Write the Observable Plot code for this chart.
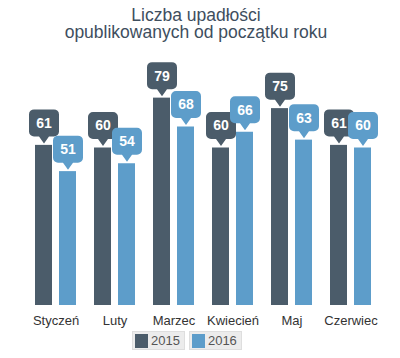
<!DOCTYPE html>
<html>
<head>
<meta charset="utf-8">
<script src="https://cdn.jsdelivr.net/npm/d3@7"></script>
<script src="https://cdn.jsdelivr.net/npm/@observablehq/plot@0.6"></script>
<style>
  html, body { margin: 0; padding: 0; background: #fff; }
  body { width: 400px; height: 358px; overflow: hidden; font-family: "Liberation Sans", Arial, sans-serif; }
  #title { height: 45px; box-sizing: border-box; padding-top: 7px; padding-right: 8px; text-align: center; font-size: 17.5px; line-height: 16.5px; color: #3e4e5e; white-space: nowrap; }
  #chart svg { display: block; }
  #legend { display: flex; gap: 4px; margin-left: 132px; margin-top: 1px; }
  .item { display: flex; align-items: center; background: #ececec; border: 1px solid #dedede; padding: 1px 4px 1px 2px; height: 15px; font-size: 13px; color: #555; }
  .sw { width: 13px; height: 14px; margin-right: 3px; }
</style>
</head>
<body>
<div id="title">Liczba upadłości<br>opublikowanych od początku roku</div>
<div id="chart"></div>
<div id="legend"></div>
<script>
const months = ["Styczeń", "Luty", "Marzec", "Kwiecień", "Maj", "Czerwiec"];
const years = ["2015", "2016"];
const v2015 = [61, 60, 79, 60, 75, 61];
const v2016 = [51, 54, 68, 66, 63, 60];
const colors = ["#4b5c6a", "#5d9dca"];

const data = [];
months.forEach((m, i) => {
  data.push({month: m, year: years[0], value: v2015[i]});
  data.push({month: m, year: years[1], value: v2016[i]});
});

const callout = {
  draw(ctx) {
    const r = 5;
    ctx.moveTo(0, -2);
    ctx.lineTo(-5, -9);
    ctx.arcTo(-15, -9, -15, -36, r);
    ctx.arcTo(-15, -36, 15, -36, r);
    ctx.arcTo(15, -36, 15, -9, r);
    ctx.arcTo(15, -9, -15, -9, r);
    ctx.lineTo(5, -9);
    ctx.closePath();
  }
};

const chart = Plot.plot({
  width: 400,
  height: 285,
  marginTop: 50,
  marginBottom: 25,
  marginLeft: 25,
  marginRight: 18,
  style: {fontSize: "13px", fontFamily: "Liberation Sans, Arial, sans-serif", color: "#333", background: "#fff"},
  fx: {domain: months, paddingInner: 0.3, paddingOuter: 0.15, axis: "bottom", label: null, tickSize: 0, tickPadding: 10},
  x: {domain: years, paddingInner: 0.3, paddingOuter: 0, axis: null},
  y: {domain: [0, 80], axis: null},
  color: {domain: years, range: colors},
  marks: [
    Plot.barY(data, {fx: "month", x: "year", y: "value", fill: "year"}),
    Plot.dot(data, {fx: "month", x: "year", y: "value", fill: "year", symbol: callout, r: 5}),
    Plot.text(data, {fx: "month", x: "year", y: "value", text: d => String(d.value), dy: -22, fill: "white", fontSize: 14, fontWeight: "bold"})
  ]
});
document.getElementById("chart").appendChild(chart);

const legend = document.getElementById("legend");
years.forEach((y, i) => {
  const item = document.createElement("div");
  item.className = "item";
  const sw = document.createElement("div");
  sw.className = "sw";
  sw.style.background = colors[i];
  item.appendChild(sw);
  item.appendChild(document.createTextNode(y));
  legend.appendChild(item);
});
</script>
</body>
</html>
